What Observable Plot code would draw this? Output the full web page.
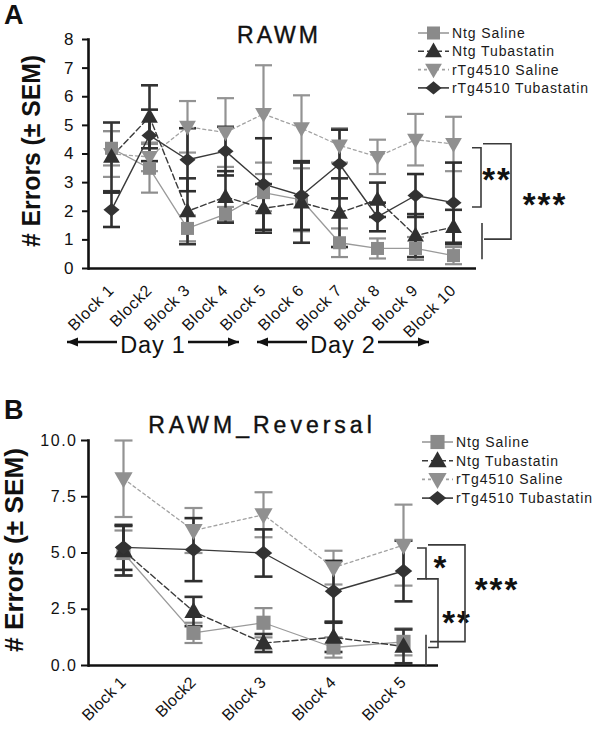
<!DOCTYPE html>
<html><head><meta charset="utf-8">
<script src="https://cdn.jsdelivr.net/npm/d3@7"></script>
<script src="https://cdn.jsdelivr.net/npm/@observablehq/plot@0.6"></script>
<style>
body{margin:0;background:#fff;}
#chart{width:600px;height:729px;position:relative;overflow:hidden;}
#chart svg{display:block;}
</style></head><body><div id="chart"></div>
<script>
// ---------- data ----------
const seriesNames = ["Ntg Saline", "Ntg Tubastatin", "rTg4510 Saline", "rTg4510 Tubastatin"];

const blocksA = ["Block 1","Block2","Block 3","Block 4","Block 5","Block 6","Block 7","Block 8","Block 9","Block 10"];
const ntgSalineA    = [4.2, 3.5, 1.4, 1.9, 2.65, 2.4, 0.9, 0.7, 0.7, 0.45];
const ntgSalineSemA = [0.6, 0.85, 0.45, 0.25, 0.65, 1.1, 0.5, 0.35, 0.4, 0.3];
const ntgTubA       = [3.9, 5.3, 2.0, 2.5, 2.1, 2.3, 1.95, 2.4, 1.15, 1.45];
const ntgTubSemA    = [1.2, 1.1, 1.15, 0.9, 0.85, 1.4, 1.2, 0.6, 0.75, 0.6];
const rtgSalineA    = [4.0, 3.9, 4.95, 4.75, 5.4, 4.9, 4.3, 3.9, 4.5, 4.35];
const rtgSalineSemA = [0.8, 0.5, 0.9, 1.2, 1.7, 1.15, 0.6, 0.6, 0.9, 0.95];
const rtgTubA       = [2.05, 4.65, 3.8, 4.1, 2.95, 2.55, 3.65, 1.8, 2.55, 2.3];
const rtgTubSemA    = [0.6, 0.9, 1.1, 0.85, 1.6, 1.2, 1.2, 0.5, 0.75, 1.4];
const yTicksA = [0, 1, 2, 3, 4, 5, 6, 7, 8];
const daysA = [{label: "Day 1", first: "Block 1", last: "Block 5"}, {label: "Day 2", first: "Block 6", last: "Block 10"}];

const blocksB = ["Block 1","Block2","Block 3","Block 4","Block 5"];
const ntgSalineB    = [5.0, 1.45, 1.9, 0.8, 1.05];
const ntgSalineSemB = [1.0, 0.45, 0.65, 0.45, 0.6];
const ntgTubB       = [5.1, 2.4, 1.0, 1.25, 0.85];
const ntgTubSemB    = [1.1, 0.65, 0.4, 0.65, 0.75];
const rtgSalineB    = [8.3, 6.0, 6.7, 4.35, 5.35];
const rtgSalineSemB = [1.7, 1.0, 1.0, 0.75, 1.8];
const rtgTubB       = [5.25, 5.15, 5.0, 3.3, 4.2];
const rtgTubSemB    = [1.0, 1.4, 1.05, 1.35, 1.35];
const yTicksB = [0, 2.5, 5, 7.5, 10];

// significance annotations (values in data units)
const sigA = [
  {stars: "**",  top: 4.2,  bottom: 2.13, label: 3.25},
  {stars: "***", top: 4.34, bottom: 1.01, label: 2.38, tickTop: 1.57, tickBottom: 0.31}
];
const sigB = [
  {stars: "*",   top: 5.2,  bottom: 3.83, label: 4.54},
  {stars: "**",  top: 3.83, bottom: 0.78, label: 2.1},
  {stars: "***", top: 5.34, bottom: 1.04, label: 3.57, tickTop: 1.35, tickBottom: -0.07}
];

// ---------- styles ----------
const FONT = "'Liberation Sans', Arial, Helvetica, sans-serif";
const styles = {
  "Ntg Saline":         {fill: "#8a8a8a", line: "#9a9a9a", dash: null,  lw: 1.3, shape: "square",   bar: "#8e8e8e", bw: 2.2},
  "Ntg Tubastatin":     {fill: "#303030", line: "#3a3a3a", dash: "6,3", lw: 1.4, shape: "triangle", bar: "#333333", bw: 2.6},
  "rTg4510 Saline":     {fill: "#909090", line: "#a2a2a2", dash: "3,3", lw: 1.3, shape: "down",     bar: "#939393", bw: 2.2},
  "rTg4510 Tubastatin": {fill: "#333333", line: "#3a3a3a", dash: null,  lw: 1.4, shape: "diamond",  bar: "#2e2e2e", bw: 2.6}
};
const symbols = {
  square:   {draw(c, s) { const r = Math.sqrt(s / Math.PI); const h = r * 0.93; c.rect(-h, -h, 2 * h, 2 * h); }},
  triangle: {draw(c, s) { const r = Math.sqrt(s / Math.PI); c.moveTo(0, -r * 1.25); c.lineTo(r * 1.2, r * 0.85); c.lineTo(-r * 1.2, r * 0.85); c.closePath(); }},
  down:     {draw(c, s) { const r = Math.sqrt(s / Math.PI); c.moveTo(0, r * 1.25); c.lineTo(r * 1.2, -r * 0.85); c.lineTo(-r * 1.2, -r * 0.85); c.closePath(); }},
  diamond:  {draw(c, s) { const r = Math.sqrt(s / Math.PI); c.moveTo(0, -r * 0.95); c.lineTo(r * 1.15, 0); c.lineTo(0, r * 0.95); c.lineTo(-r * 1.15, 0); c.closePath(); }}
};
const capSymbol = w => ({draw(c) { c.moveTo(-w, 0); c.lineTo(w, 0); }});
const drawOrder = ["rTg4510 Saline", "Ntg Saline", "Ntg Tubastatin", "rTg4510 Tubastatin"];

function makePanel(cfg) {
  const rows = [];
  cfg.series.forEach((s, k) => cfg.blocks.forEach((b, i) => rows.push({series: seriesNames[k], block: b, value: s.v[i], sem: s.e[i]})));
  const marks = [];
  const cap = capSymbol(cfg.cap);
  for (const name of drawOrder) {
    const st = styles[name];
    const d = rows.filter(r => r.series === name);
    marks.push(Plot.ruleX(d, {x: "block", y1: r => r.value - r.sem, y2: r => r.value + r.sem, stroke: st.bar, strokeWidth: st.bw}));
    marks.push(Plot.dot(d, {x: "block", y: r => r.value + r.sem, symbol: cap, fill: "none", stroke: st.bar, strokeWidth: st.bw}));
    marks.push(Plot.dot(d, {x: "block", y: r => r.value - r.sem, symbol: cap, fill: "none", stroke: st.bar, strokeWidth: st.bw}));
  }
  for (const name of drawOrder) {
    const st = styles[name];
    const d = rows.filter(r => r.series === name);
    marks.push(Plot.line(d, {x: "block", y: "value", stroke: st.line, strokeWidth: st.lw, strokeDasharray: st.dash || undefined}));
  }
  for (const name of drawOrder) {
    const st = styles[name];
    const d = rows.filter(r => r.series === name);
    marks.push(Plot.dot(d, {x: "block", y: "value", symbol: symbols[st.shape], r: cfg.r, fill: st.fill, stroke: "none"}));
  }
  marks.push(Plot.ruleY([0], {stroke: "#111", strokeWidth: 2.6}));
  marks.push(Plot.frame({anchor: "left", stroke: "#111", strokeWidth: 2.6}));
  marks.push(Plot.axisY({ticks: cfg.yTicks, tickFormat: cfg.yFormat, tickSize: cfg.tickSize, tickPadding: cfg.tickPadding, fontSize: cfg.yFont, color: "#111", strokeWidth: 2, label: null}));
  marks.push(Plot.axisX({tickSize: 0, tickPadding: cfg.xPad, tickRotate: -45, fontSize: 16, color: "#111", label: null}));

  const chart = Plot.plot({
    width: 600, height: cfg.height,
    marginLeft: cfg.ml, marginRight: cfg.mr, marginTop: cfg.mt, marginBottom: cfg.mb,
    style: {fontFamily: FONT, background: "#fff", overflow: "visible"},
    x: {type: "point", domain: cfg.blocks, padding: 0.5},
    y: {domain: cfg.yDomain},
    marks
  });

  const svg = d3.select(chart);
  const sx = v => chart.scale("x").apply(v);
  const sy = v => chart.scale("y").apply(v);
  const xEnd = 600 - cfg.mr;

  svg.selectAll('[aria-label="y-axis tick label"] text').attr("letter-spacing", cfg.yLetter);
  svg.selectAll('[aria-label="x-axis tick label"] text').attr("letter-spacing", cfg.xLetter);

  const g = svg.append("g").attr("font-family", FONT).attr("text-anchor", "start");
  g.append("text").attr("x", 4).attr("y", cfg.letterY).attr("text-anchor", "start").attr("font-size", 27).attr("font-weight", "bold").attr("fill", "#111").text(cfg.letter);
  g.append("text").attr("x", cfg.titleX).attr("y", cfg.titleY).attr("text-anchor", "middle").attr("font-size", 23)
    .attr("letter-spacing", cfg.titleSpacing).attr("fill", "#111").attr("stroke", "#111").attr("stroke-width", 0.4).text(cfg.title);
  g.append("text").attr("transform", `translate(${cfg.ylabX},${cfg.ylabY}) rotate(-90)`).attr("text-anchor", "middle")
    .attr("font-size", 25).attr("font-weight", "bold").attr("fill", "#111")
    .attr("textLength", cfg.ylabLen).attr("lengthAdjust", "spacingAndGlyphs").text("# Errors (± SEM)");

  seriesNames.forEach((name, i) => {
    const st = styles[name];
    const y = cfg.legY + i * cfg.legStep;
    g.append("line").attr("x1", cfg.legX).attr("x2", cfg.legX + 31).attr("y1", y).attr("y2", y)
      .attr("stroke", st.line).attr("stroke-width", 1.6).attr("stroke-dasharray", st.dash);
    const p = d3.path(); symbols[st.shape].draw(p, Math.PI * cfg.r * cfg.r);
    g.append("path").attr("transform", `translate(${cfg.legX + 15.5},${y})`).attr("d", p.toString()).attr("fill", st.fill);
    g.append("text").attr("x", cfg.legX + 34).attr("y", y).attr("dy", "0.36em").attr("text-anchor", "start").attr("font-size", 14)
      .attr("letter-spacing", 0.9).attr("fill", "#1a1a1a").text(name);
  });

  cfg.sig.forEach((s, i) => {
    const geo = cfg.sigGeo[i];
    g.append("path").attr("d", `M${xEnd + geo.from},${sy(s.top)}H${xEnd + geo.at}V${sy(s.bottom)}H${xEnd + geo.to}`)
      .attr("fill", "none").attr("stroke", "#3a3a3a").attr("stroke-width", 1.6);
    if (s.tickTop !== undefined) {
      g.append("line").attr("x1", xEnd + geo.tickX).attr("x2", xEnd + geo.tickX).attr("y1", sy(s.tickTop)).attr("y2", sy(s.tickBottom))
        .attr("stroke", "#3a3a3a").attr("stroke-width", 1.6);
    }
    g.append("text").attr("x", xEnd + geo.textX).attr("y", sy(s.label)).attr("dy", "0.5em").attr("text-anchor", "middle")
      .attr("font-size", 33).attr("font-weight", "bold").attr("letter-spacing", 2).attr("fill", "#111").text(s.stars);
  });

  if (cfg.days) {
    cfg.days.forEach(d => {
      const mid = (sx(d.first) + sx(d.last)) / 2 - 34;
      const y = cfg.dayY;
      const segs = [[mid - 86, mid - 36, -1], [mid + 35, mid + 86, 1]];
      segs.forEach(([a, b, dir]) => {
        const tip = dir < 0 ? a : b;
        g.append("line").attr("x1", a).attr("x2", b).attr("y1", y).attr("y2", y).attr("stroke", "#111").attr("stroke-width", 2.4);
        g.append("path").attr("d", `M${tip},${y}L${tip - dir * 11},${y - 4.5}L${tip - dir * 11},${y + 4.5}Z`).attr("fill", "#111");
      });
      g.append("text").attr("x", mid).attr("y", y + 11).attr("text-anchor", "middle").attr("font-size", 23.5)
        .attr("letter-spacing", 0.8).attr("fill", "#111").text(d.label);
    });
  }
  return chart;
}

const panelA = makePanel({
  blocks: blocksA,
  series: [{v: ntgSalineA, e: ntgSalineSemA}, {v: ntgTubA, e: ntgTubSemA}, {v: rtgSalineA, e: rtgSalineSemA}, {v: rtgTubA, e: rtgTubSemA}],
  height: 378, ml: 88, mr: 124, mt: 39, mb: 110,
  yDomain: [0, 8], yTicks: yTicksA, yFormat: d3.format("d"), tickSize: 6, tickPadding: 9, yFont: 17, yLetter: 0,
  xPad: 19, xLetter: 0.7, cap: 8.5, r: 7,
  letter: "A", letterY: 24, title: "RAWM", titleX: 279, titleY: 43, titleSpacing: 3,
  ylabX: 40, ylabY: 151, ylabLen: 192,
  legX: 418, legY: 33, legStep: 18.3,
  sig: sigA,
  sigGeo: [{from: -4, at: 5, to: -4, textX: 21}, {from: 7, at: 35, to: 8, tickX: 6, textX: 69}],
  days: daysA, dayY: 342
});

const panelB = makePanel({
  blocks: blocksB,
  series: [{v: ntgSalineB, e: ntgSalineSemB}, {v: ntgTubB, e: ntgTubSemB}, {v: rtgSalineB, e: rtgSalineSemB}, {v: rtgTubB, e: rtgTubSemB}],
  height: 351, ml: 88, mr: 162, mt: 62, mb: 64,
  yDomain: [0, 10], yTicks: yTicksB, yFormat: d3.format(".1f"), tickSize: 7, tickPadding: 4, yFont: 16, yLetter: 1.5,
  xPad: 14, xLetter: 0.3, cap: 9, r: 7.6,
  letter: "B", letterY: 41, title: "RAWM_Reversal", titleX: 262, titleY: 55, titleSpacing: 4,
  ylabX: 23, ylabY: 172, ylabLen: 204,
  legX: 422, legY: 64, legStep: 18.7,
  sig: sigB,
  sigGeo: [{from: -21, at: -12, to: -21, textX: 3}, {from: -12, at: 0, to: -10, textX: 19}, {from: -10, at: 27, to: -8, tickX: -12, textX: 59}],
  days: null
});

const root = document.getElementById("chart");
root.appendChild(panelA);
root.appendChild(panelB);
</script></body></html>
